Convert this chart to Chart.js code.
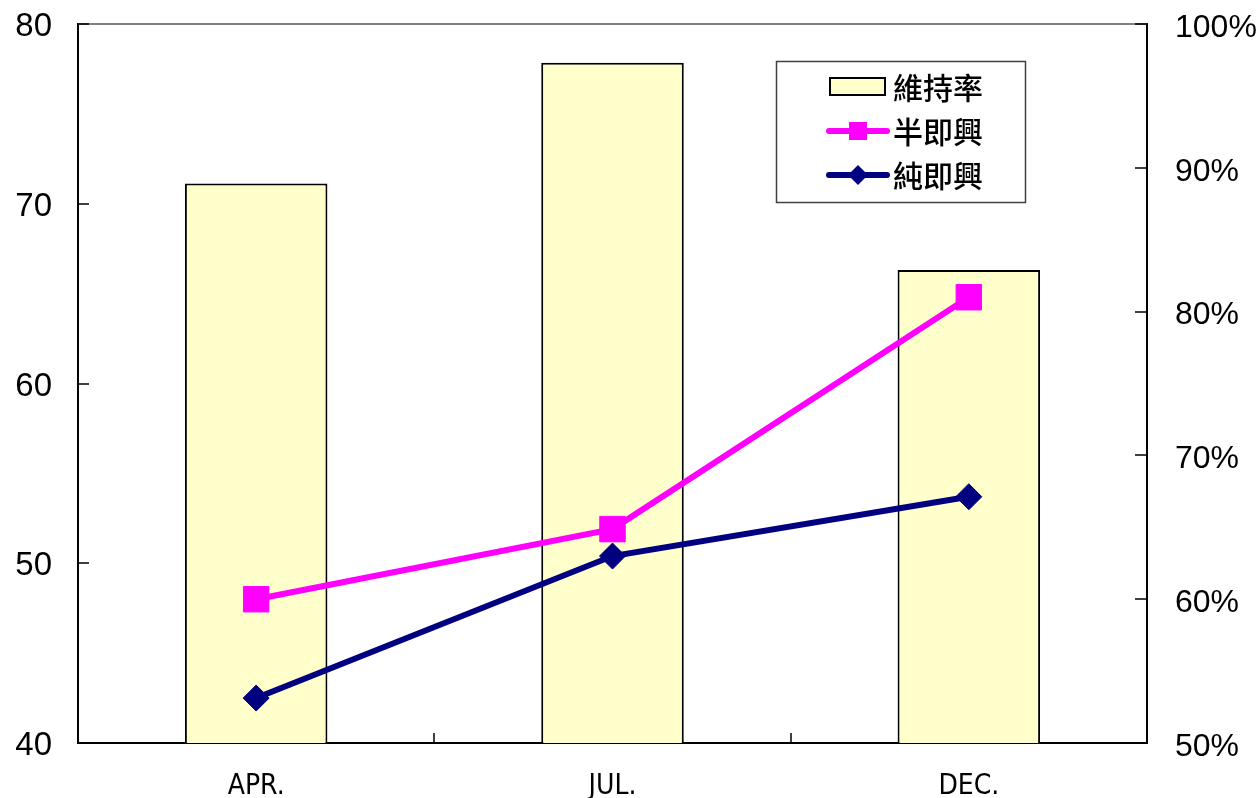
<!DOCTYPE html>
<html>
<head>
<meta charset="utf-8">
<title>維持率 / 半即興 / 純即興</title>
<script src="https://cdn.jsdelivr.net/npm/chart.js@4.4.1/dist/chart.umd.min.js"></script>
<style>
  html, body { margin: 0; padding: 0; background: #fff; }
  #wrap { width: 1256px; height: 798px; position: relative; }
</style>
</head>
<body>
<div id="wrap"><canvas id="chart"></canvas></div>
<script>
// chart values
const months = ['APR.', 'JUL.', 'DEC.'];
const retentionRate = [88.9, 97.3, 82.9];   // 維持率, % (right axis)
const semiImprov = [48.0, 51.9, 64.8];      // 半即興 (left axis)
const pureImprov = [42.5, 50.4, 53.7];      // 純即興 (left axis)
const leftTicks = [40, 50, 60, 70, 80];
const rightTicks = [50, 60, 70, 80, 90, 100];

const cjkFont = '"Noto Sans CJK TC", "Noto Sans CJK JP", sans-serif';

// use a narrow face for the month labels if one is installed
function pickMonthFont() {
  const c = document.createElement('canvas').getContext('2d');
  const tries = [
    { family: '"Liberation Sans Narrow"', size: 30 },
    { family: '"DejaVu Sans Condensed"', size: 28 },
  ];
  for (const f of tries) {
    c.font = f.size + 'px serif';
    const w0 = c.measureText('APR.').width;
    c.font = f.size + 'px ' + f.family + ', serif';
    if (Math.abs(c.measureText('APR.').width - w0) > 0.5) return f;
  }
  return { family: '"DejaVu Sans Mono", monospace', size: 25 };
}
const monthFont = pickMonthFont();

// short tick marks pointing into the plot + grey top border
const innerTicks = {
  id: 'innerTicks',
  afterDraw(chart) {
    const { ctx, chartArea } = chart;
    const x = chart.scales.x, yl = chart.scales.y, yr = chart.scales.y2;
    ctx.save();
    ctx.strokeStyle = '#808080';
    ctx.lineWidth = 2;
    ctx.beginPath();
    ctx.moveTo(chartArea.left, chartArea.top);
    ctx.lineTo(chartArea.right, chartArea.top);
    ctx.stroke();

    ctx.strokeStyle = '#000';
    ctx.lineWidth = 1.5;
    ctx.beginPath();
    yl.ticks.forEach(t => {
      if (t.value === yl.min) return;
      const py = Math.round(yl.getPixelForValue(t.value));
      ctx.moveTo(chartArea.left, py);
      ctx.lineTo(chartArea.left + 11, py);
    });
    yr.ticks.forEach(t => {
      if (t.value === yr.min) return;
      const py = Math.round(yr.getPixelForValue(t.value));
      ctx.moveTo(chartArea.right, py);
      ctx.lineTo(chartArea.right - 12, py);
    });
    for (let i = 1; i < months.length; i++) {
      const px = Math.round((x.getPixelForTick(i - 1) + x.getPixelForTick(i)) / 2);
      ctx.moveTo(px, chartArea.bottom);
      ctx.lineTo(px, chartArea.bottom - 10);
    }
    ctx.stroke();
    ctx.restore();
  }
};

// boxed legend inside the plot, upper right
const boxLegend = {
  id: 'boxLegend',
  afterDraw(chart) {
    const ctx = chart.ctx;
    const ds = chart.data.datasets;
    const items = [ds[2], ds[0], ds[1]];
    const bx = 776, by = 61, bw = 249, bh = 141;
    ctx.save();
    ctx.fillStyle = '#fff';
    ctx.fillRect(bx, by, bw, bh);
    ctx.strokeStyle = '#404040';
    ctx.lineWidth = 1.5;
    ctx.strokeRect(bx + 0.5, by + 0.5, bw, bh);

    items.forEach((d, i) => {
      const cy = by + 26 + i * 44;
      if (d.type === 'line') {
        ctx.strokeStyle = d.borderColor;
        ctx.lineWidth = 6;
        ctx.lineCap = 'round';
        ctx.beginPath();
        ctx.moveTo(829, cy);
        ctx.lineTo(887, cy);
        ctx.stroke();
        ctx.fillStyle = d.borderColor;
        if (d.pointStyle === 'rect') {
          ctx.fillRect(849, cy - 9, 18, 18);
        } else {
          ctx.beginPath();
          ctx.moveTo(858, cy - 10);
          ctx.lineTo(868, cy);
          ctx.lineTo(858, cy + 10);
          ctx.lineTo(848, cy);
          ctx.closePath();
          ctx.fill();
        }
      } else {
        ctx.fillStyle = d.backgroundColor;
        ctx.fillRect(830, cy - 9, 55, 17);
        ctx.strokeStyle = '#000';
        ctx.lineWidth = 2;
        ctx.strokeRect(830, cy - 9, 55, 17);
      }
      ctx.fillStyle = '#000';
      ctx.font = '500 30px ' + cjkFont;
      ctx.textBaseline = 'middle';
      ctx.textAlign = 'left';
      ctx.fillText(d.label, 893, cy + 1);
    });
    ctx.restore();
  }
};

// let the end labels hang outside the plot instead of shrinking it
function noOverhang(s) {
  s.paddingTop = 0;
  s.paddingBottom = 0;
}

const config = {
  type: 'bar',
  data: {
    labels: months,
    datasets: [
      {
        type: 'line',
        label: '半即興',
        data: semiImprov,
        yAxisID: 'y',
        borderColor: '#FF00FF',
        backgroundColor: '#FF00FF',
        borderWidth: 6,
        pointStyle: 'rect',
        pointRadius: 18,
        pointBorderWidth: 1,
        fill: false,
      },
      {
        type: 'line',
        label: '純即興',
        data: pureImprov,
        yAxisID: 'y',
        borderColor: '#000080',
        backgroundColor: '#000080',
        borderWidth: 6,
        pointStyle: 'rectRot',
        pointRadius: 13,
        pointBorderWidth: 1,
        fill: false,
      },
      {
        type: 'bar',
        label: '維持率',
        data: retentionRate,
        yAxisID: 'y2',
        backgroundColor: '#FFFFCC',
        borderColor: '#000',
        borderWidth: 2,
        borderSkipped: false,
        barPercentage: 0.4,
        categoryPercentage: 1.0,
      },
    ],
  },
  options: {
    responsive: true,
    maintainAspectRatio: false,
    animation: false,
    devicePixelRatio: 1,
    layout: { padding: { top: 24, left: 0, right: 0, bottom: 0 } },
    plugins: {
      legend: { display: false },
      tooltip: { enabled: false },
    },
    scales: {
      x: {
        offset: true,
        grid: { display: false },
        border: { color: '#000', width: 2 },
        ticks: {
          color: '#000',
          padding: 19,
          font: monthFont,
        },
        afterFit(s) { s.height = 55; s.paddingLeft = 0; s.paddingRight = 0; },
      },
      y: {
        position: 'left',
        min: 40,
        max: 80,
        afterBuildTicks(s) { s.ticks = leftTicks.map(v => ({ value: v })); },
        grid: { display: false, drawTicks: false },
        border: { color: '#000', width: 2 },
        ticks: {
          color: '#000',
          padding: 26,
          labelOffset: 3,
          font: { family: '"Liberation Sans", Arial, sans-serif', size: 33 },
        },
        afterFit(s) { s.width = 78; noOverhang(s); },
      },
      y2: {
        position: 'right',
        min: 50,
        max: 100,
        afterBuildTicks(s) { s.ticks = rightTicks.map(v => ({ value: v })); },
        grid: { display: false, drawTicks: false },
        border: { color: '#000', width: 2 },
        ticks: {
          color: '#000',
          padding: 28,
          labelOffset: 4,
          font: { family: '"Liberation Sans", Arial, sans-serif', size: 32 },
          callback: v => v + '%',
        },
        afterFit(s) { s.width = 1256 - 1147; noOverhang(s); },
      },
    },
  },
  plugins: [innerTicks, boxLegend],
};

new Chart(document.getElementById('chart'), config);
</script>
</body>
</html>
